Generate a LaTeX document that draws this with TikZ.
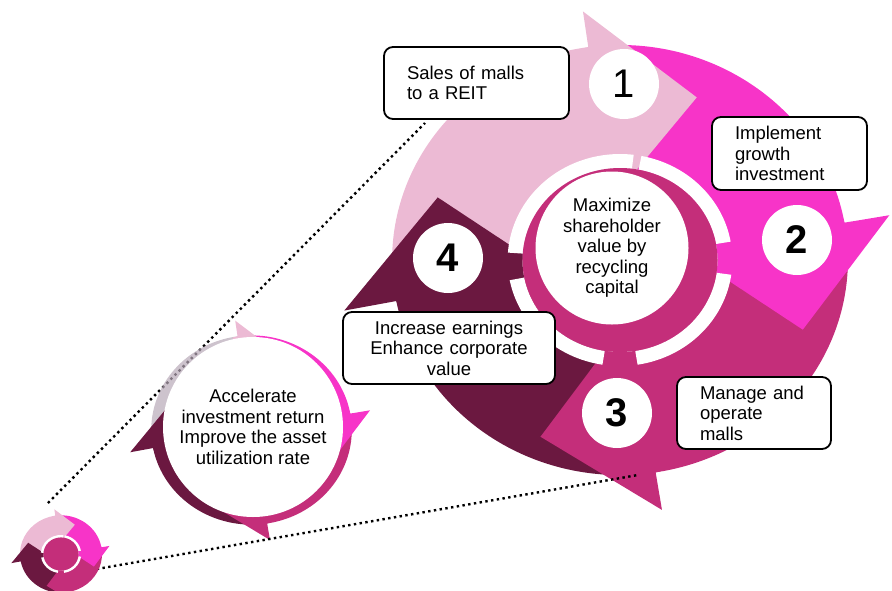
\documentclass[tikz,border=0pt]{standalone}
\usepackage{fontspec}
\setmainfont{Liberation Sans}

\definecolor{blush}{RGB}{236,186,212}
\definecolor{fuchsia}{RGB}{247,52,200}
\definecolor{berry}{RGB}{196,46,122}
\definecolor{plum}{RGB}{107,24,64}
\definecolor{haze}{RGB}{184,169,184}

\newcommand{\lblfont}{\fontsize{18.5}{20.5}\selectfont}

% Four-arrow recycling wheel, drawn around (0,0) with y pointing up
\newcommand{\recyclewheel}{%
  % arrow bodies
  \path[bandone] (176:92) -- (191:215) arc[start angle=191,end angle=98,radius=215]
    -- (80:92) arc[start angle=80,end angle=176,radius=92] -- cycle;
  \path[bandtwo] (80:92) -- (98:215) arc[start angle=98,end angle=10,radius=215]
    -- (-8:92) arc[start angle=-8,end angle=80,radius=92] -- cycle;
  \path[bandthree] (-8:92) -- (10:215) arc[start angle=10,end angle=-81,radius=215]
    -- (-99:92) arc[start angle=-99,end angle=-8,radius=92] -- cycle;
  \path[bandfour] (-99:92) -- (-81:215) arc[start angle=-81,end angle=-169,radius=215]
    -- (-184:92) arc[start angle=-184,end angle=-99,radius=92] -- cycle;
  % arrow heads (each reaches a little back into its own body)
  \path[headone] (84:92) -- (101:214) -- (98:215) -- (98:251) -- (66:178) -- (80:92) -- cycle;
  \path[headtwo] (-4:92) -- (13:214) -- (10:215) -- (10:258) -- (-22:186) -- (-8:92) -- cycle;
  \path[headthree] (-95:92) -- (-78:214) -- (-81:215) -- (-81:253) -- (-113:192) -- (-99:92) -- cycle;
  \path[headfour] (180:92) -- (194:214) -- (191:215) -- (191:265) -- (160:183) -- (176:92) -- cycle;
  % broken white ring and hub
  \foreach \a/\b in {10/79, 83/176, 191/261, 279/352}
    \path[fill=white] (\a:106) arc[start angle=\a,end angle=\b,radius=106]
      -- (\b:92) arc[start angle=\b,end angle=\a,radius=92] -- cycle;
  \path[fill=berry] (0,0) circle[radius=92];
}

\begin{document}
\begin{tikzpicture}[x=1pt,y=-1pt,
  bandone/.style={fill=blush}, headone/.style={fill=blush},
  bandtwo/.style={fill=fuchsia}, headtwo/.style={fill=fuchsia},
  bandthree/.style={fill=berry}, headthree/.style={fill=berry},
  bandfour/.style={fill=plum}, headfour/.style={fill=plum},
  zoomline/.style={line width=2.4pt, dash pattern=on 2.4pt off 3.4pt, black},
  callout/.style={draw=black, line width=1.8pt, fill=white, rounded corners=9pt,
    inner xsep=23pt, inner ysep=0pt, minimum height=72pt, font=\lblfont},
  numdisk/.style={circle, fill=white, minimum size=70pt, inner sep=0pt,
    font=\fontsize{40}{40}\selectfont},
  hub/.style={circle, fill=white, inner sep=0pt, align=center, font=\lblfont}]

\useasboundingbox (0,0) rectangle (892,590);
\clip (0,0) rectangle (892,590);

% large wheel
\begin{scope}[shift={(620,260)}, yscale=-1, xscale=1.06]
  \recyclewheel
\end{scope}

% zoom guide lines: end points
\coordinate (tipA) at (48,503);
\coordinate (endA) at (425,123);
\coordinate (tipB) at (91,570);
\coordinate (endB) at (638,475);

\draw[zoomline] (tipA) -- (endA);

% middle wheel
\begin{scope}[shift={(251.5,430)}, yscale=-1, scale=0.44, xscale=1.06,
    bandone/.style={fill=haze, fill opacity=0.7}]
  \recyclewheel
\end{scope}
\node[hub, minimum size=180pt] (payoff) at (253,427)
  {Accelerate\\investment return\\Improve the asset\\utilization rate};

\draw[zoomline] (tipB) -- (endB);

% small wheel
\begin{scope}[shift={(61,554)}, yscale=-1, scale=0.18, xscale=1.06]
  \recyclewheel
\end{scope}

% centre of the large wheel
\node[hub, minimum size=153pt] (core) at (612,248)
  {Maximize\\shareholder\\value by\\recycling\\capital};

% step numbers
\node[numdisk] (n1) at (624,84) {1};
\node[numdisk, font=\fontsize{40}{40}\selectfont\bfseries] (n2) at (797,240) {2};
\node[numdisk, font=\fontsize{40}{40}\selectfont\bfseries] (n3) at (617,413) {3};
\node[numdisk, font=\fontsize{40}{40}\selectfont\bfseries] (n4) at (448,258) {4};

% step captions
\node[callout, text width=139pt, align=left] (sale) at (476.5,83)
  {Sales of malls\\to a REIT};
\node[callout, text width=109pt, align=left, minimum height=73pt] (grow) at (789.5,153.5)
  {Implement\\growth\\investment};
\node[callout, text width=166pt, align=center] (earn) at (449,348)
  {Increase earnings\\Enhance corporate\\value};
\node[callout, text width=108pt, align=left] (run) at (754,413)
  {Manage and\\operate\\malls};

\end{tikzpicture}
\end{document}
